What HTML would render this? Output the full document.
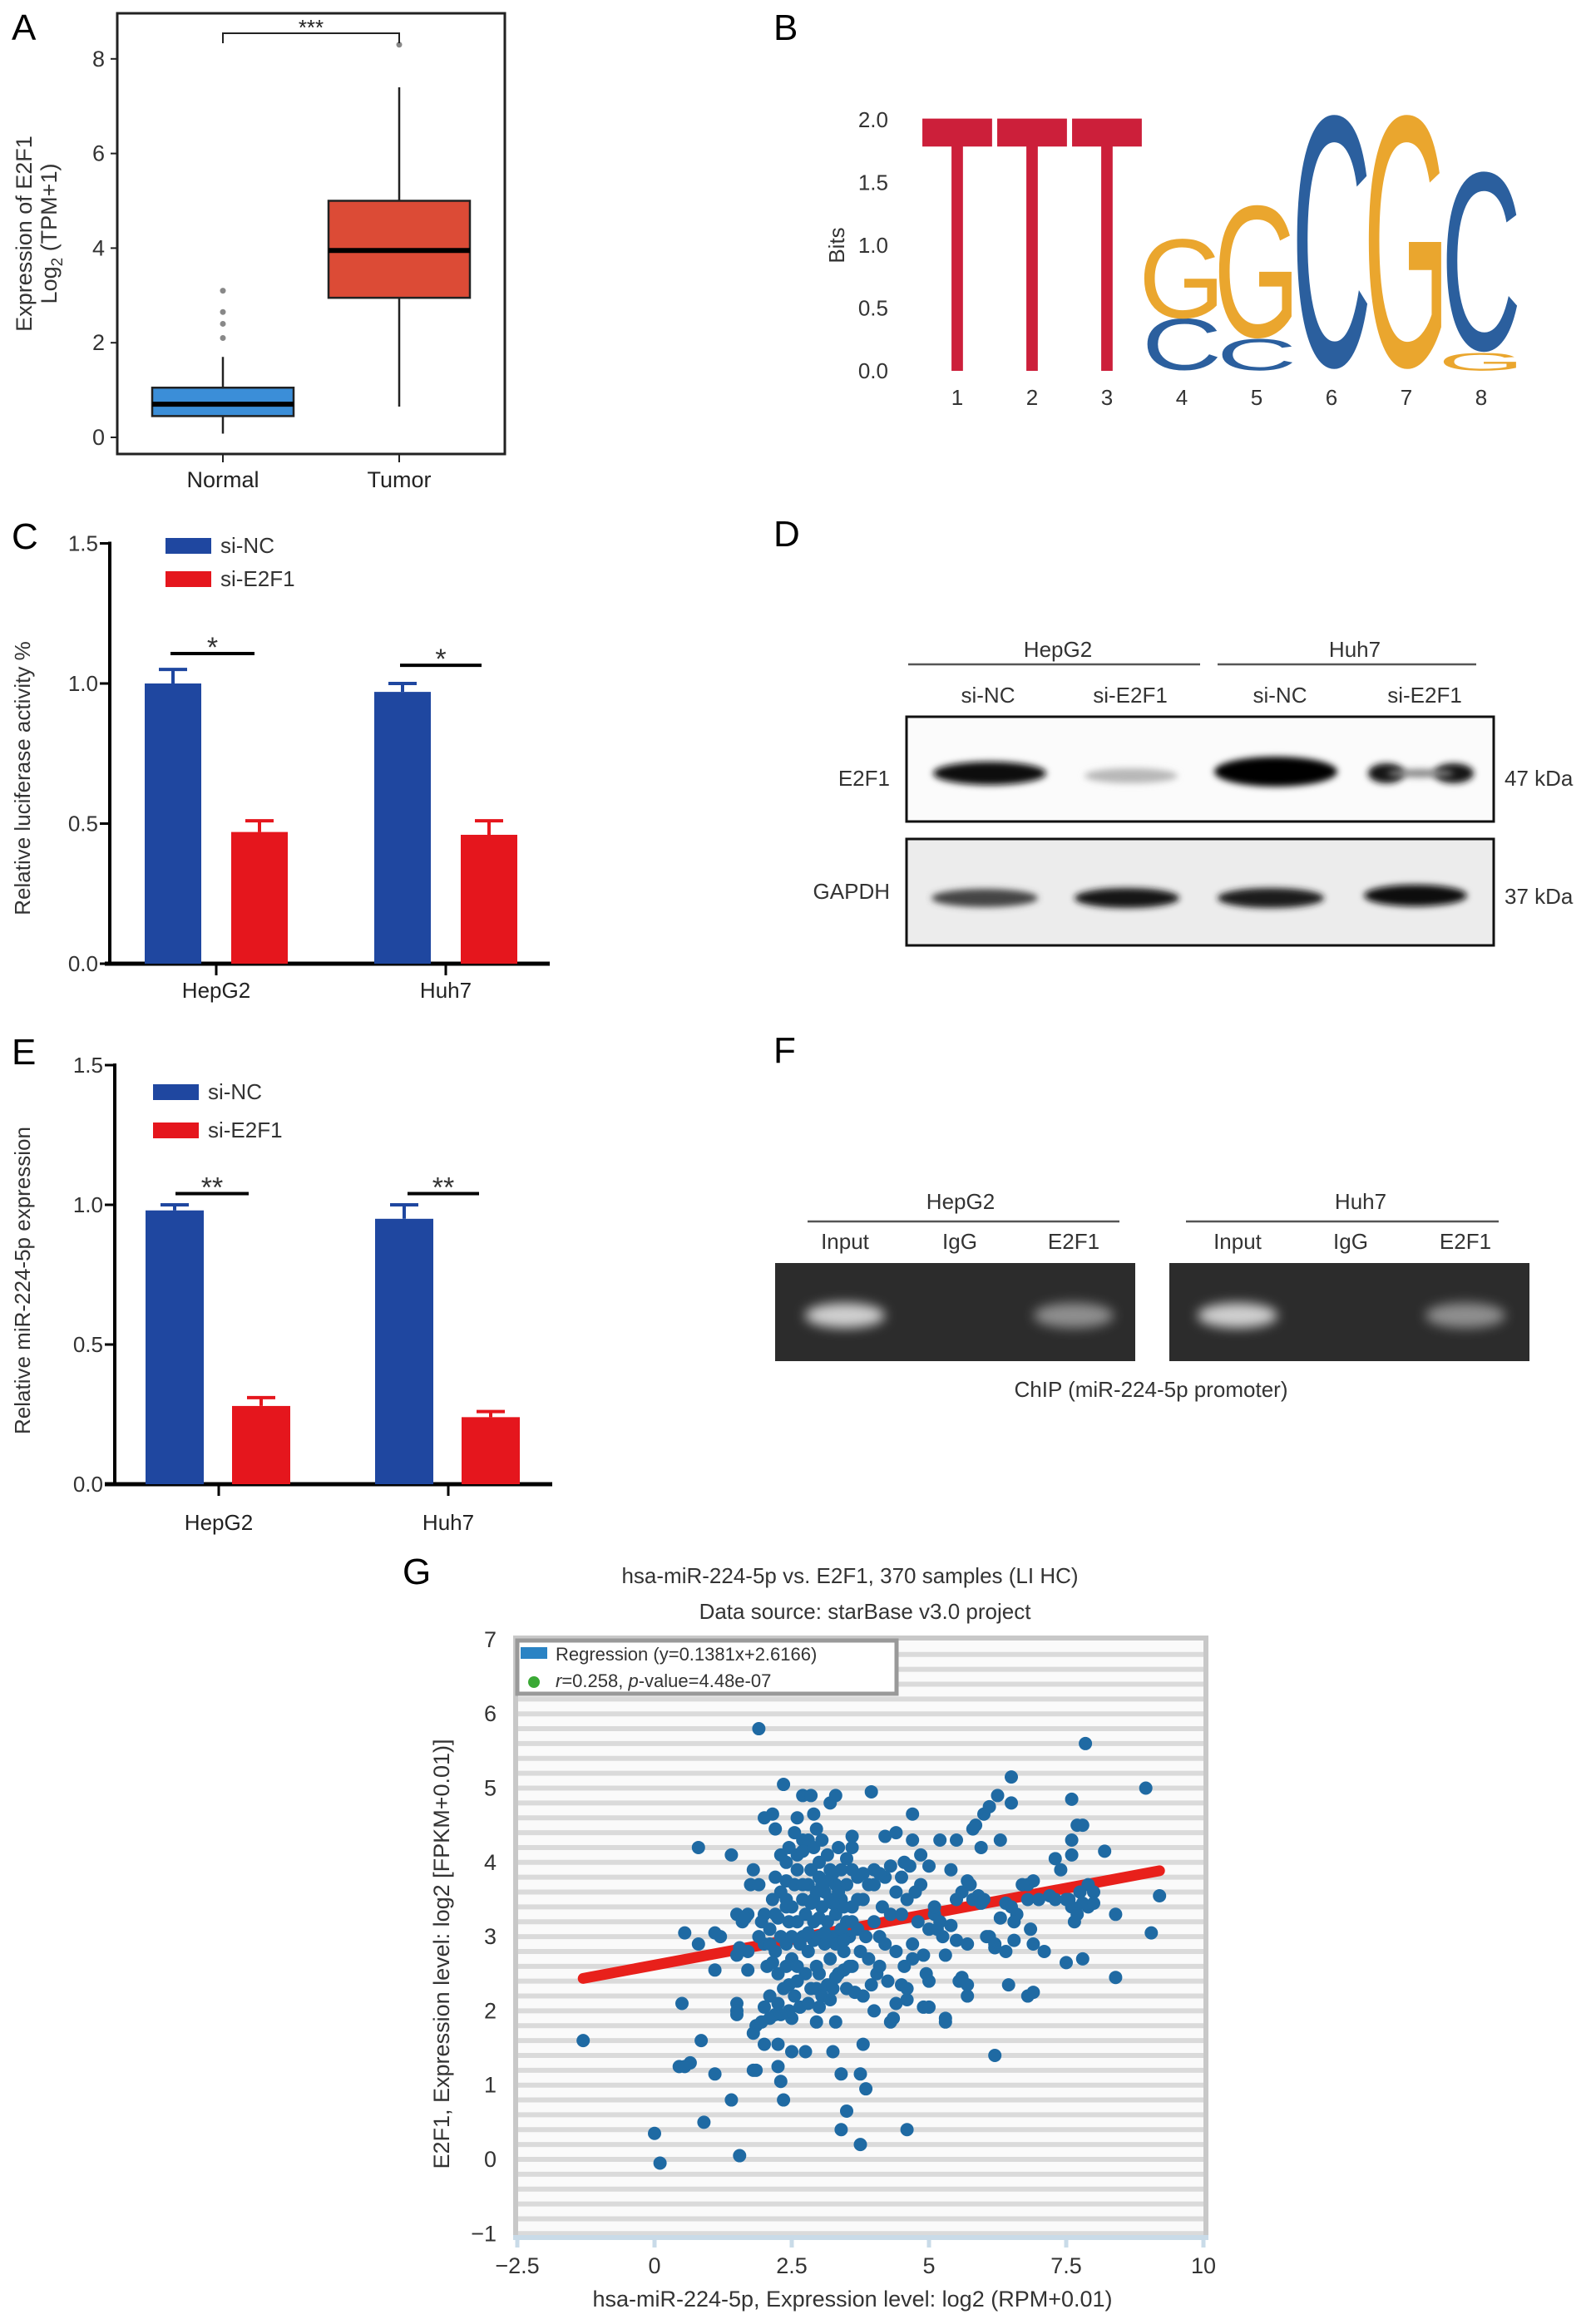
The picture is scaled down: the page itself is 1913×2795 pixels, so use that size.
<!DOCTYPE html>
<html><head><meta charset="utf-8"><style>
html,body{margin:0;padding:0;background:#fff;}
svg{display:block;font-family:"Liberation Sans",Arial,sans-serif;}
</style></head><body>
<svg id="fig" width="1913" height="2795" viewBox="0 0 1913 2795" xmlns="http://www.w3.org/2000/svg">
<defs>
<filter id="blur4" x="-20%" y="-100%" width="140%" height="300%"><feGaussianBlur stdDeviation="4"/></filter>
<filter id="blur7" x="-20%" y="-100%" width="140%" height="300%"><feGaussianBlur stdDeviation="7"/></filter>
</defs>
<text x="14" y="48" font-size="44">A</text>
<text x="930" y="48" font-size="44">B</text>
<text x="14" y="660" font-size="44">C</text>
<text x="930" y="657" font-size="44">D</text>
<text x="14" y="1280" font-size="44">E</text>
<text x="930" y="1278" font-size="44">F</text>
<text x="484" y="1905" font-size="44">G</text>

<g id="pA"></g>
<g id="pB"></g>
<g id="pC"></g>
<g id="pD"></g>
<g id="pE"></g>
<g id="pF"></g>
<g id="pG"></g>
</svg>
<script>
// ---------- Panel A data ----------
const boxCats = ["Normal", "Tumor"];
const boxQ1 = [0.45, 2.95];
const boxMed = [0.7, 3.95];
const boxQ3 = [1.05, 5.0];
const boxLo = [0.08, 0.65];
const boxHi = [1.7, 7.4];
const boxOutNormal = [2.1, 2.4, 2.65, 3.1];
const boxOutTumor = [8.3];
const boxTicks = [0, 2, 4, 6, 8];
// ---------- Panel B data ----------
const logoPositions = [1, 2, 3, 4, 5, 6, 7, 8];
const logoLetters = [["T"], ["T"], ["T"], ["C", "G"], ["C", "G"], ["C"], ["G"], ["G", "C"]];
const logoBits = [[2.0], [2.0], [2.0], [0.41, 0.63], [0.25, 1.05], [2.0], [2.0], [0.14, 1.42]];
const logoTicks = [0, 0.5, 1.0, 1.5, 2.0];
// ---------- Panel C data ----------
const cCats = ["HepG2", "Huh7"];
const cNC = [1.0, 0.97];
const cNCerr = [0.05, 0.03];
const cSI = [0.47, 0.46];
const cSIerr = [0.04, 0.05];
const cTicks = [0, 0.5, 1.0, 1.5];
const cSig = ["*", "*"];
// ---------- Panel E data ----------
const eCats = ["HepG2", "Huh7"];
const eNC = [0.98, 0.95];
const eNCerr = [0.02, 0.05];
const eSI = [0.28, 0.24];
const eSIerr = [0.03, 0.02];
const eTicks = [0, 0.5, 1.0, 1.5];
const eSig = ["**", "**"];
// ---------- Panel G data ----------
const gXTicks = [-2.5, 0, 2.5, 5, 7.5, 10];
const gXTickLabels = ["\u22122.5", "0", "2.5", "5", "7.5", "10"];
const gYTicks = [-1, 0, 1, 2, 3, 4, 5, 6, 7];
const gYTickLabels = ["\u22121", "0", "1", "2", "3", "4", "5", "6", "7"];
const gSlope = 0.1381;
const gIntercept = 2.6166;
const gLineRange = [-1.3, 9.2];
const gX = [-1.3,0.0,0.1,0.45,0.55,0.65,0.5,0.55,0.8,0.8,0.85,0.9,1.1,1.2,1.1,1.1,1.4,1.4,1.5,1.5,1.5,1.5,1.55,1.6,1.7,1.7,1.75,1.8,1.8,1.8,1.85,1.9,1.9,2.0,2.0,2.0,2.1,2.1,2.15,2.2,2.2,2.2,2.25,2.25,2.25,2.3,2.35,2.35,2.4,2.4,2.4,2.45,2.5,2.5,2.55,2.6,2.7,2.7,2.75,2.8,2.85,2.9,2.95,2.95,3.0,3.2,3.3,3.25,3.3,3.4,3.5,3.4,3.6,3.6,3.75,3.75,3.8,3.85,3.95,4.0,4.3,4.35,4.4,4.5,4.6,4.6,4.7,4.7,4.85,4.9,5.0,5.0,5.2,5.3,5.3,5.4,5.5,5.6,5.7,5.7,5.75,5.8,5.85,5.95,6.0,6.1,6.2,6.25,6.3,6.5,6.5,6.1,6.2,6.4,6.45,6.55,6.6,6.8,6.8,6.9,6.9,7.1,7.3,7.4,7.5,7.6,7.6,7.6,7.7,7.8,7.85,7.8,7.9,8.0,8.2,8.4,8.4,8.95,9.05,9.2,
2.3,2.4,2.5,2.6,2.6,2.7,2.7,2.75,2.8,2.8,2.85,2.9,2.9,2.95,3.0,3.0,3.0,3.05,3.1,3.1,3.15,3.2,3.2,3.2,3.25,3.3,3.3,3.35,3.4,3.4,3.45,3.5,3.5,3.5,3.55,3.6,3.6,3.7,3.7,3.75,3.8,3.85,3.9,3.9,4.0,4.0,4.05,4.1,4.15,4.2,4.2,4.3,4.4,4.4,2.3,2.35,2.4,2.45,2.5,2.55,2.6,2.65,2.7,2.75,2.85,2.9,2.95,3.05,3.15,3.25,3.3,3.45,3.55,3.65,3.8,3.95,4.1,4.25,2.1,2.15,2.2,2.25,2.0,1.95,1.9,1.7,1.65,1.55,1.5,2.05,2.15,2.3,2.45,2.6,2.7,2.9,3.05,3.15,3.35,3.5,3.6,3.8,4.0,4.1,3.25,3.15,3.05,2.95,3.35,3.45,3.25,3.0,3.1,2.8,2.85,3.4,3.6,3.7,3.3,3.45,2.6,2.5,2.4,2.55,2.65,2.8,3.0,3.2,2.45,2.3,2.2,2.1,1.95,2.0,1.85,2.25,
4.5,4.6,4.7,4.7,4.8,4.9,4.95,5.0,5.0,5.1,5.2,5.25,5.3,5.4,5.5,5.5,5.6,5.7,5.7,5.8,5.9,5.95,6.0,6.05,6.2,6.3,6.4,6.5,6.55,6.7,6.8,6.85,6.9,7.0,7.2,7.3,7.5,7.6,7.7,7.75,7.8,7.9,8.0,7.65,7.55,4.6,4.55,4.75,4.85,4.5,4.55,4.2,4.4,4.3,4.65,5.1,5.15,5.55];
const gY = [1.6,0.35,-0.05,1.25,1.25,1.3,2.1,3.05,2.9,4.2,1.6,0.5,3.05,3.0,2.55,1.15,4.1,0.8,1.95,2.1,2.0,3.3,0.05,3.2,2.8,2.55,3.7,3.9,1.7,1.2,1.8,5.8,3.7,4.6,2.9,2.05,2.9,2.2,4.65,4.45,3.8,3.3,2.5,1.55,1.25,1.05,0.8,5.05,4.0,3.5,2.6,2.35,1.9,1.45,4.4,4.6,4.9,4.3,1.45,4.3,4.9,4.65,4.45,1.85,2.5,4.8,4.9,1.45,1.85,1.15,0.65,0.4,4.2,4.35,0.2,1.15,1.55,0.95,4.95,2.0,1.85,1.9,2.1,2.35,0.4,2.15,4.65,4.3,4.1,2.05,2.05,3.95,4.3,1.9,1.85,3.9,4.3,2.45,2.35,2.2,3.7,4.45,4.5,4.2,4.65,4.75,1.4,4.9,4.3,5.15,4.8,3.0,2.85,2.8,2.35,2.95,3.3,3.7,2.2,3.75,2.25,2.8,4.05,3.9,2.65,4.1,4.3,4.85,4.5,4.5,5.6,2.7,3.7,3.6,4.15,3.3,2.45,5.0,3.05,3.55,
3.6,3.75,3.4,3.2,3.9,3.5,3.0,3.3,3.7,2.8,3.9,3.2,3.5,2.6,3.0,3.8,4.0,3.4,3.6,2.9,3.2,3.9,3.5,2.7,3.0,3.7,3.3,2.5,3.9,3.5,2.8,3.2,3.7,2.3,3.0,3.4,2.6,3.8,3.1,2.8,3.5,3.0,3.7,2.7,3.2,3.9,2.5,3.0,3.4,3.8,2.9,3.3,3.6,2.8,3.0,2.3,2.9,3.2,2.7,3.7,2.4,2.9,3.7,2.5,2.3,2.95,2.3,2.2,2.35,2.3,2.45,2.55,2.6,2.25,2.2,2.35,2.6,2.4,3.1,3.5,2.8,3.25,3.3,3.2,3.0,3.3,3.25,2.85,2.75,2.6,2.65,4.1,4.2,4.1,4.15,4.2,4.3,4.1,4.2,4.05,3.9,3.85,3.7,3.85,3.85,3.75,3.7,3.6,3.6,3.4,3.45,3.25,3.05,3.05,3.45,3.1,3.2,3.5,2.9,2.95,2.6,3.0,3.4,2.2,2.05,2.1,2.05,2.15,2.0,1.95,1.95,1.9,1.85,1.55,1.2,2.1,
3.3,3.5,2.9,2.7,3.2,2.75,2.5,2.4,3.1,3.3,3.2,3.0,2.75,3.15,3.5,2.95,3.6,3.75,2.9,3.5,3.55,3.45,3.5,3.0,2.9,3.25,3.45,3.4,3.2,3.7,3.5,3.1,2.9,3.5,3.55,3.5,3.5,3.4,3.3,3.6,3.45,3.4,3.45,3.2,3.5,2.3,2.6,3.6,3.7,3.8,4.0,4.35,4.4,3.95,3.95,3.4,3.1,2.4];

const NS = "http://www.w3.org/2000/svg";
function mk(tag, attrs, parent) {
  const el = document.createElementNS(NS, tag);
  for (const k in attrs) el.setAttribute(k, attrs[k]);
  parent.appendChild(el);
  return el;
}
function txt(str, attrs, parent) {
  const t = mk("text", attrs, parent);
  t.textContent = str;
  return t;
}

// ================= Panel A =================
(function(){
  const g = document.getElementById("pA");
  const yA = v => 526 - v * 56.9;
  const xA = [268, 480];
  const hw = 85;
  let el = mk("rect", {x:141, y:16, width:466, height:530, fill:"none", stroke:"#222", "stroke-width":3}, g);
  
  
  boxTicks.forEach(v => {
    let t = mk("line", {x1:133, x2:141, y1:yA(v), y2:yA(v), stroke:"#222", "stroke-width":2}, g);
    
    
    let l = txt(String(v), {x:126, y:yA(v)+9, "font-size":27, "text-anchor":"end", fill:"#333"}, g);
    
    
  });
  const colors = ["#3b8ed8", "#dc4b36"];
  boxCats.forEach((c, i) => {
    const x = xA[i];
    let w = mk("line", {x1:x, x2:x, y1:yA(boxLo[i]), y2:yA(boxHi[i]), stroke:"#222", "stroke-width":2.5}, g);
    
    
    let b = mk("rect", {x:x-hw, y:yA(boxQ3[i]), width:2*hw, height:yA(boxQ1[i])-yA(boxQ3[i]), fill:colors[i], stroke:"#222", "stroke-width":2.5}, g);
    
    
    let m = mk("line", {x1:x-hw, x2:x+hw, y1:yA(boxMed[i]), y2:yA(boxMed[i]), stroke:"#000", "stroke-width":6}, g);
    
    
    let tk = mk("line", {x1:x, x2:x, y1:546, y2:556, stroke:"#222", "stroke-width":2}, g);
    
    
    let lb = txt(c, {x:x, y:586, "font-size":27, "text-anchor":"middle", fill:"#222"}, g);
    
    
  });
  boxOutNormal.forEach(v => {
    let o = mk("circle", {cx:xA[0], cy:yA(v), r:3.5, fill:"#888"}, g);
    
    
  });
  boxOutTumor.forEach(v => {
    let o = mk("circle", {cx:xA[1], cy:yA(v), r:3.5, fill:"#888"}, g);
    
    
  });
  let br = mk("path", {d:"M"+xA[0]+",52 V40 H"+xA[1]+" V52", fill:"none", stroke:"#222", "stroke-width":2}, g);
  
  
  let st = txt("***", {x:(xA[0]+xA[1])/2, y:42, "font-size":26, "text-anchor":"middle", fill:"#222"}, g);
  
  
  let yt = mk("text", {transform:"translate(38,281) rotate(-90)", "font-size":27, "text-anchor":"middle", fill:"#333"}, g);
  
  
  yt.innerHTML = '<tspan x="0" y="0">Expression of E2F1</tspan><tspan x="0" y="30">Log<tspan font-size="19" dy="7">2</tspan><tspan dy="-7"> (TPM+1)</tspan></tspan>';
})();

// ================= Panel B =================
(function(){
  const g = document.getElementById("pB");
  const yB = b => 446 - b * 151;
  const xB = p => 1151 + (p - 1) * 90;
  const col = {T:"#cc1f3a", C:"#2b5f9e", G:"#eaa62e"};
  logoTicks.forEach(v => {
    let l = txt(v.toFixed(1), {x:1068, y:yB(v)+9, "font-size":26, "text-anchor":"end", fill:"#333"}, g);
    
    
  });
  let yt = txt("Bits", {transform:"translate(1015,295) rotate(-90)", "font-size":26, "text-anchor":"middle", fill:"#333"}, g);
  
  
  logoPositions.forEach((p, i) => {
    let base = 0;
    logoLetters[i].forEach((L, j) => {
      const h = logoBits[i][j];
      const hp = h * 151;
      const sx = L === "T" ? 86/58 : 88/66;
      const sy = L === "T" ? hp/68.5 : hp/70;
      const yb = yB(base) - (L === "T" ? 0 : 1.5*sy);
      let t = txt(L, {transform:"translate("+xB(p)+","+yb+") scale("+sx+","+sy+")", "font-size":100, "text-anchor":"middle", fill:col[L]}, g);
      
      
      base += h;
    });
    let xl = txt(String(p), {x:xB(p), y:487, "font-size":26, "text-anchor":"middle", fill:"#333"}, g);
    
    
  });
})();

// ================= Bar panels C & E =================
function barPanel(gid, yScale, axisX, axisY, xStart, xEnd, centers, offs, bw, cats, nc, ncErr, si, siErr, ticks, sigs, sigVals, sigLines, legY, legX, ytitle, ytitleY, catY) {
  const g = document.getElementById(gid);
  let ax = mk("line", {x1:axisX, x2:axisX, y1:yScale(1.5)-2, y2:axisY, stroke:"#000", "stroke-width":4}, g);
  
  
  let xa = mk("line", {x1:xStart, x2:xEnd, y1:axisY, y2:axisY, stroke:"#000", "stroke-width":5}, g);
  
  
  ticks.forEach(v => {
    let t = mk("line", {x1:axisX-12, x2:axisX, y1:yScale(v), y2:yScale(v), stroke:"#000", "stroke-width":3}, g);
    
    
    let l = txt(v.toFixed(1), {x:axisX-14, y:yScale(v)+9, "font-size":26, "text-anchor":"end", fill:"#333"}, g);
    
    
  });
  cats.forEach((c, i) => {
    const cx = centers[i];
    [[nc, ncErr, "#1f47a0", offs[0], "si-nc"], [si, siErr, "#e5161d", offs[1], "si-e2f1"]].forEach(s => {
      const v = s[0][i], e = s[1][i], color = s[2], x = cx + s[3];
      let eb = mk("path", {d:"M"+x+","+yScale(v)+" V"+yScale(v+e)+" M"+(x-17)+","+yScale(v+e)+" H"+(x+17), stroke:color, "stroke-width":4, fill:"none"}, g);
      
      
      let r = mk("rect", {x:x-bw/2, y:yScale(v), width:bw, height:axisY-yScale(v), fill:color}, g);
      
      
    });
    let tk = mk("line", {x1:cx, x2:cx, y1:axisY, y2:axisY+14, stroke:"#000", "stroke-width":3}, g);
    
    
    let lb = txt(c, {x:cx, y:catY, "font-size":26, "text-anchor":"middle", fill:"#222"}, g);
    
    
    const sy = yScale(sigVals[i]);
    let sl = mk("line", {x1:sigLines[i][0], x2:sigLines[i][1], y1:sy, y2:sy, stroke:"#000", "stroke-width":4}, g);
    
    
    let ss = txt(sigs[i], {x:(sigLines[i][0]+sigLines[i][1])/2, y:sy+4, "font-size":34, "text-anchor":"middle", fill:"#333"}, g);
    
    
  });
  let lg = mk("g", {}, g);
  
  
  let r1 = mk("rect", {x:legX, y:legY[0], width:55, height:19, fill:"#1f47a0"}, lg);
  
  
  let t1 = txt("si-NC", {x:legX+66, y:legY[0]+18, "font-size":26, fill:"#333"}, lg);
  
  
  let r2 = mk("rect", {x:legX, y:legY[1], width:55, height:19, fill:"#e5161d"}, lg);
  
  
  let t2 = txt("si-E2F1", {x:legX+66, y:legY[1]+18, "font-size":26, fill:"#333"}, lg);
  
  
  let yt = txt(ytitle, {transform:"translate(36,"+ytitleY+") rotate(-90)", "font-size":26, "text-anchor":"middle", fill:"#333"}, g);
  
  
}
barPanel("pC", v => 1159 - v*337, 132, 1159, 126, 661, [260, 536], [-52, 52], 68,
  cCats, cNC, cNCerr, cSI, cSIerr, cTicks, cSig, [1.107, 1.065], [[205,306],[481,579]],
  [647, 687], 199, "Relative luciferase activity %", 936, 1200);
barPanel("pE", v => 1785 - v*336, 138, 1785, 126, 664, [263, 539], [-53, 51], 70,
  eCats, eNC, eNCerr, eSI, eSIerr, eTicks, eSig, [1.04, 1.04], [[211,299],[490,576]],
  [1304, 1350], 184, "Relative miR-224-5p expression", 1540, 1840);

// ================= Panel D (western blot) =================
(function(){
  const g = document.getElementById("pD");
  const lanes = [1188, 1359, 1539, 1713];
  const laneLabels = ["si-NC", "si-E2F1", "si-NC", "si-E2F1"];
  [["HepG2", 1272, 1092, 1443], ["Huh7", 1629, 1464, 1775]].forEach(h => {
    let t = txt(h[0], {x:h[1], y:790, "font-size":26, "text-anchor":"middle", fill:"#333"}, g);
    
    
    let l = mk("line", {x1:h[2], x2:h[3], y1:799, y2:799, stroke:"#555", "stroke-width":2.5}, g);
    
    
  });
  lanes.forEach((x, i) => {
    let t = txt(laneLabels[i], {x:x, y:845, "font-size":26, "text-anchor":"middle", fill:"#333"}, g);
    
    
  });
  let b1 = mk("rect", {x:1090, y:862, width:706, height:126, fill:"#fbfbfb", stroke:"#111", "stroke-width":3}, g);
  
  
  let b2 = mk("rect", {x:1090, y:1009, width:706, height:128, fill:"#ececec", stroke:"#111", "stroke-width":3}, g);
  
  
  const e2 = [[1190,930,68,14,"#111"],[1360,933,56,9,"#b8b8b8"],[1534,928,74,18,"#050505"],[1667,930,22,12,"#151515"],[1748,930,24,12,"#151515"],[1708,930,40,5,"#888"]];
  e2.forEach(b => {
    let e = mk("ellipse", {cx:b[0], cy:b[1], rx:b[2], ry:b[3], fill:b[4], filter:"url(#blur4)"}, g);
    
    
  });
  const gp = [[1184,1080,64,11,"#444"],[1355,1080,63,12,"#151515"],[1528,1080,64,12,"#1a1a1a"],[1702,1077,62,13,"#080808"]];
  gp.forEach(b => {
    let e = mk("ellipse", {cx:b[0], cy:b[1], rx:b[2], ry:b[3], fill:b[4], filter:"url(#blur4)"}, g);
    
    
  });
  [["E2F1", 1070, 945, "end"], ["GAPDH", 1070, 1081, "end"], ["47 kDa", 1809, 945, "start"], ["37 kDa", 1809, 1087, "start"]].forEach(l => {
    let t = txt(l[0], {x:l[1], y:l[2], "font-size":26, "text-anchor":l[3], fill:"#333"}, g);
    
    
  });
})();

// ================= Panel F (ChIP gel) =================
(function(){
  const g = document.getElementById("pF");
  [["HepG2", 1155, 971, 1346, 932], ["Huh7", 1636, 1426, 1802, 1406]].forEach((h, k) => {
    let t = txt(h[0], {x:h[1], y:1454, "font-size":26, "text-anchor":"middle", fill:"#333"}, g);
    
    
    let l = mk("line", {x1:h[2], x2:h[3], y1:1469, y2:1469, stroke:"#555", "stroke-width":2.5}, g);
    
    
    let gel = mk("rect", {x:h[4], y:1519, width:433, height:118, fill:"#2c2c2c"}, g);
    
    
  });
  const lanesF = [1016, 1154, 1291, 1488, 1624, 1762];
  const lanesFL = ["Input", "IgG", "E2F1", "Input", "IgG", "E2F1"];
  lanesF.forEach((x, i) => {
    let t = txt(lanesFL[i], {x:x, y:1502, "font-size":26, "text-anchor":"middle", fill:"#333"}, g);
    
    
  });
  [[1016,"#d0d0d0"],[1291,"#8f8f8f"],[1488,"#d0d0d0"],[1762,"#8f8f8f"]].forEach(b => {
    let e = mk("ellipse", {cx:b[0], cy:1582, rx:48, ry:15, fill:b[1], filter:"url(#blur7)"}, g);
    
    
  });
  let c = txt("ChIP (miR-224-5p promoter)", {x:1384, y:1680, "font-size":26, "text-anchor":"middle", fill:"#333"}, g);
  
  
})();

// ================= Panel G (scatter) =================
(function(){
  const g = document.getElementById("pG");
  const xG = v => 787 + v * 66;
  const yG = v => 2597 - v * 89.3;
  let bg = mk("rect", {x:618, y:1968, width:834, height:722, fill:"#fafafa"}, g);
  
  
  for (let k = 0; k <= 40; k++) {
    const v = -1 + k * 0.2;
    const y = yG(v);
    if (y < 1972 || y > 2690) continue;
    let s = mk("line", {x1:622, x2:1450, y1:y, y2:y, stroke:"#dadada", "stroke-width":6}, g);
    
    
  }
  let fr = mk("path", {d:"M620,2690 V1970 H1450 V2690", fill:"none", stroke:"#c8c8c8", "stroke-width":6}, g);
  
  
  let xa = mk("line", {x1:617, x2:1453, y1:2691, y2:2691, stroke:"#c9dbe8", "stroke-width":6}, g);
  
  
  gXTicks.forEach((v, i) => {
    let t = mk("line", {x1:xG(v), x2:xG(v), y1:2691, y2:2703, stroke:"#c9dbe8", "stroke-width":5}, g);
    
    
    let l = txt(gXTickLabels[i], {x:xG(v), y:2734, "font-size":27, "text-anchor":"middle", fill:"#333"}, g);
    
    
  });
  gYTicks.forEach((v, i) => {
    let l = txt(gYTickLabels[i], {x:597, y:yG(v)+9, "font-size":27, "text-anchor":"end", fill:"#333"}, g);
    
    
  });
  let rl = mk("line", {x1:xG(gLineRange[0]), y1:yG(gSlope*gLineRange[0]+gIntercept), x2:xG(gLineRange[1]), y2:yG(gSlope*gLineRange[1]+gIntercept), stroke:"#e8201b", "stroke-width":13, "stroke-linecap":"round"}, g);
  
  
  gX.forEach((x, i) => {
    let p = mk("circle", {cx:xG(x), cy:yG(gY[i]), r:8, fill:"#1f6aa3"}, g);
    
    
  });
  let lg = mk("g", {}, g);
  
  
  let lb = mk("rect", {x:622, y:1973, width:456, height:64, fill:"#fff", stroke:"#999", "stroke-width":5}, lg);
  
  
  let sw = mk("rect", {x:626, y:1981, width:32, height:14, fill:"#2a83c4"}, lg);
  
  
  let t1 = txt("Regression (y=0.1381x+2.6166)", {x:668, y:1997, "font-size":22, fill:"#333"}, lg);
  
  
  let dot = mk("circle", {cx:642, cy:2023, r:7, fill:"#3aa935"}, lg);
  
  
  let t2 = mk("text", {x:668, y:2029, "font-size":22, fill:"#333"}, lg);
  
  
  t2.innerHTML = '<tspan font-style="italic">r</tspan>=0.258, <tspan font-style="italic">p</tspan>-value=4.48e-07';
  let ti1 = txt("hsa-miR-224-5p vs. E2F1, 370 samples (LI HC)", {x:1022, y:1904, "font-size":26, "text-anchor":"middle", fill:"#333"}, g);
  
  
  let ti2 = txt("Data source: starBase v3.0 project", {x:1040, y:1947, "font-size":26, "text-anchor":"middle", fill:"#333"}, g);
  
  
  let xt = txt("hsa-miR-224-5p, Expression level: log2 (RPM+0.01)", {x:1025, y:2774, "font-size":27, "text-anchor":"middle", fill:"#333"}, g);
  
  
  let yt = txt("E2F1, Expression level: log2 [FPKM+0.01)]", {transform:"translate(540,2350) rotate(-90)", "font-size":27, "text-anchor":"middle", fill:"#333"}, g);
  
  
})();
</script>
</body></html>
